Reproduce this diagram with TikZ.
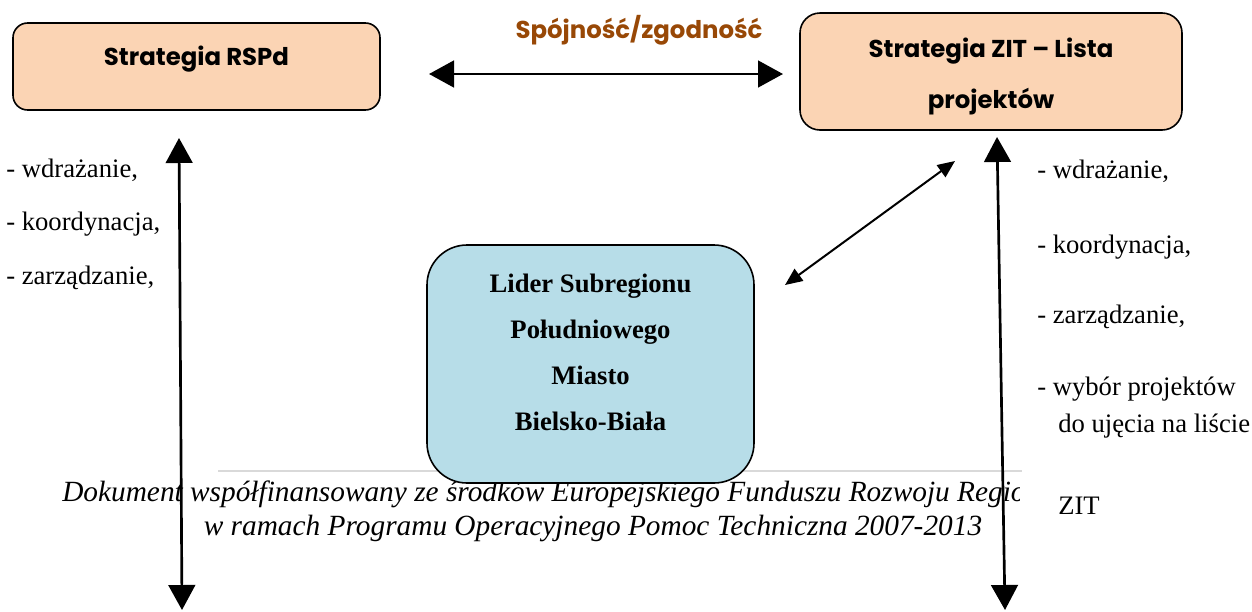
\documentclass[tikz,border=0pt]{standalone}
\usepackage{fontspec}
\setmainfont{Liberation Serif}
\newfontfamily\gothic{Poppins}
\usetikzlibrary{arrows.meta}
\definecolor{peach}{HTML}{FBD4B4}
\definecolor{lblue}{HTML}{B7DDE8}
\definecolor{brownish}{HTML}{984806}
\definecolor{footgray}{HTML}{D9D9D9}
\begin{document}
\begin{tikzpicture}[x=0.75pt,y=-0.75pt,
  peachbox/.style={draw=black, line width=1.2pt, fill=peach, inner sep=0pt},
  bluebox/.style={draw=black, line width=1.2pt, fill=lblue, rounded corners=30pt, inner sep=0pt},
  gtext/.style={font=\gothic\bfseries\fontsize{18.3}{22}\selectfont, inner sep=0pt, anchor=base},
  ltext/.style={font=\fontsize{20}{24}\selectfont, inner sep=0pt, anchor=base west},
  btext/.style={font=\bfseries\fontsize{20}{24}\selectfont, inner sep=0pt, anchor=base},
  ftext/.style={font=\itshape\fontsize{22}{26}\selectfont, inner sep=0pt},
  bigarrow/.style={line width=2pt, {Triangle[length=18.75pt,width=20pt]}-{Triangle[length=18.75pt,width=20pt]}},
  smallarrow/.style={line width=1.5pt, {Triangle[length=13pt,width=11pt]}-{Triangle[length=13pt,width=11pt]}}
]
\useasboundingbox (0,0) rectangle (1252,611);

% footer
\draw[footgray, line width=1.5pt] (218,471) coordinate (fl1) -- (1022,471) coordinate (fl2);
\begin{scope}
  \clip (0,440) rectangle (1019,560);
  \node[ftext, anchor=base west] (foot1) at (62,501) {Dokument współfinansowany ze środków Europejskiego Funduszu Rozwoju Regio};
\end{scope}
\node[ftext, anchor=base] (foot2) at (593,535) {w ramach Programu Operacyjnego Pomoc Techniczna 2007-2013};

% boxes
\node[peachbox, rounded corners=11pt, minimum width=275.25pt, minimum height=65.25pt] (rspd) at (196.5,66.5) {};
\node[gtext] (rspdt) at (196.5,65) {Strategia RSPd};

\node[peachbox, rounded corners=15pt, minimum width=286.5pt, minimum height=87.75pt] (zit) at (991,71.5) {};
\node[gtext] (zitt1) at (991,57) {Strategia ZIT – Lista};
\node[gtext] (zitt2) at (991,108) {projektów};

\node[bluebox, minimum width=245.25pt, minimum height=178.5pt] (lider) at (590.5,364) {};
\node[btext] (l1) at (590.5,292) {Lider Subregionu};
\node[btext] (l2) at (590.5,338) {Południowego};
\node[btext] (l3) at (590.5,384) {Miasto};
\node[btext] (l4) at (590.5,430) {Bielsko-Biała};

\node[gtext, text=brownish] (spoj) at (639,38) {Spójność/zgodność};

% left list
\node[ltext] (lw) at (6,177) {- wdrażanie,};
\node[ltext] (lk) at (6,230) {- koordynacja,};
\node[ltext] (lz) at (6,284) {- zarządzanie,};

% right list
\node[ltext] (rw) at (1037,178) {- wdrażanie,};
\node[ltext] (rk) at (1037,253) {- koordynacja,};
\node[ltext] (rz) at (1037,323) {- zarządzanie,};
\node[ltext] (rp) at (1037,395) {- wybór projektów};
\node[ltext] (rd) at (1058,432) {do ujęcia na liście};
\node[ltext] (rzit) at (1058,514) {ZIT};

% arrows
\coordinate (h1) at (429,74);
\coordinate (h2) at (783,74);
\draw[bigarrow] (h1) -- (h2);

\coordinate (lv1) at (179,138);
\coordinate (lv2) at (182,610);
\draw[bigarrow] (lv1) -- (lv2);

\coordinate (rv1) at (997,137);
\coordinate (rv2) at (1005,610);
\draw[bigarrow] (rv1) -- (rv2);

\coordinate (d1) at (785,285);
\coordinate (d2) at (955,161);
\draw[smallarrow] (d1) -- (d2);
\end{tikzpicture}
\end{document}
